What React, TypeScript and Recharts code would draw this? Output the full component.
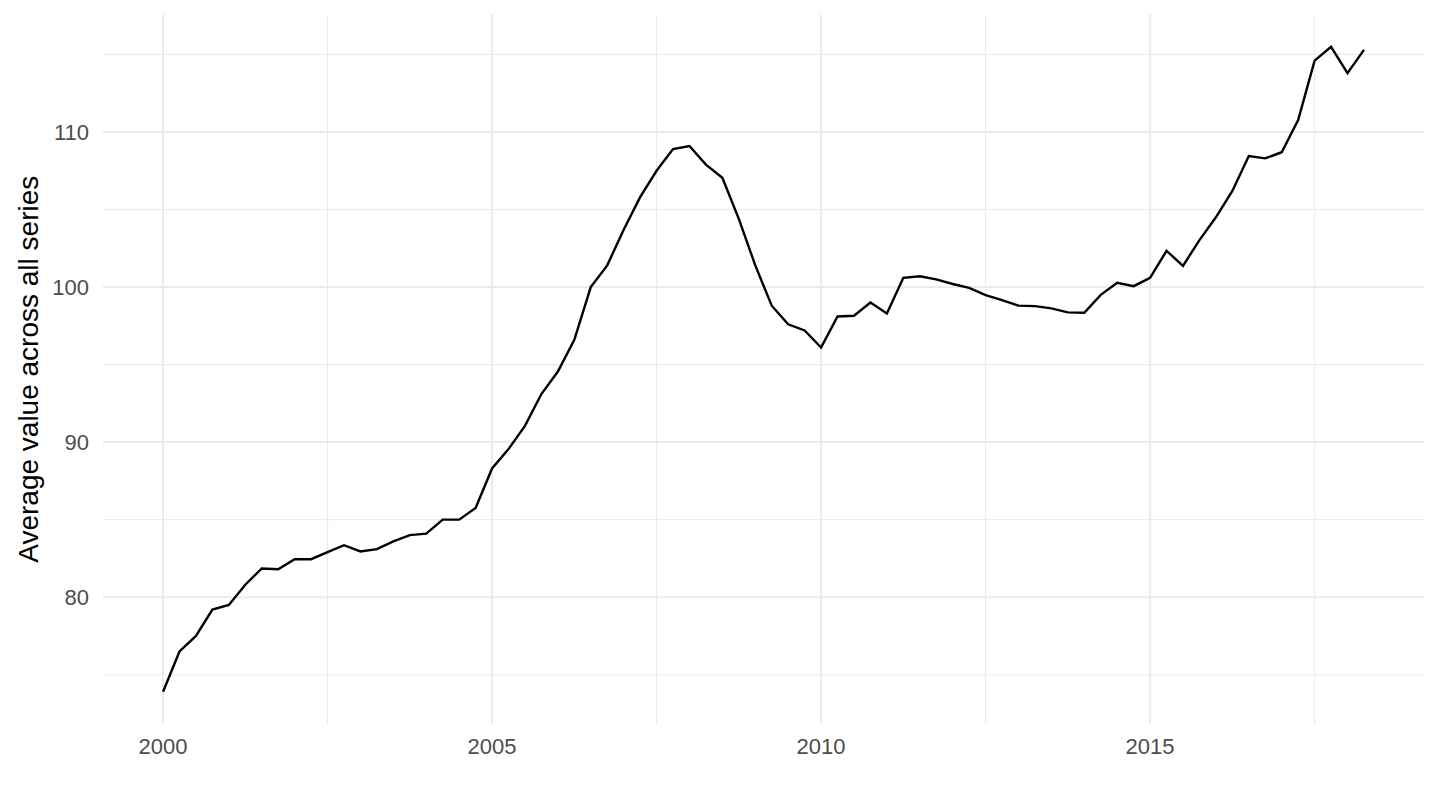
import React from 'react';
import { LineChart, Line, XAxis, YAxis, CartesianGrid } from 'recharts';

// quarterly average, 2000 Q1 .. 2018 Q2
const startYear = 2000;
const values = [
  73.9, 76.5, 77.5, 79.2, 79.5, 80.8, 81.85, 81.8,
  82.45, 82.45, 82.9, 83.35, 82.95, 83.1, 83.6, 84.0,
  84.1, 85.0, 85.0, 85.75, 88.3, 89.55, 91.05, 93.1,
  94.55, 96.6, 100.0, 101.4, 103.7, 105.8, 107.5, 108.9,
  109.1, 107.9, 107.05, 104.4, 101.4, 98.8, 97.6, 97.2,
  96.1, 98.1, 98.15, 99.0, 98.3, 100.6, 100.7, 100.5,
  100.2, 99.95, 99.48, 99.16, 98.8, 98.77, 98.63, 98.37,
  98.34, 99.5, 100.28, 100.06, 100.6, 102.34, 101.37, 103.03,
  104.5, 106.2, 108.45, 108.3, 108.7, 110.77, 114.6, 115.5,
  113.8, 115.3,
];

const xTicks = [2000, 2002.5, 2005, 2007.5, 2010, 2012.5, 2015, 2017.5];
const yTicks = [75, 80, 85, 90, 95, 100, 105, 110, 115];
const xLabels = [2000, 2005, 2010, 2015];
const yLabels = [80, 90, 100, 110];
const yTitle = 'Average value across all series';

const data = values.map((v, i) => ({ t: startYear + i / 4, value: v }));

// ggplot-style 5% expansion
const expand = (lo: number, hi: number): [number, number] => {
  const pad = (hi - lo) * 0.05;
  return [lo - pad, hi + pad];
};
const xDomain = expand(data[0].t, data[data.length - 1].t);
const yDomain = expand(Math.min(...values), Math.max(...values));

const FONT = '"Liberation Sans", Arial, Helvetica, sans-serif';
const GRID = '#ebebeb';

// major lines on labelled ticks, thin minor lines in between
const hLine = (p: any) => (
  <line
    key={p.key}
    x1={p.x1} y1={p.y1} x2={p.x2} y2={p.y2}
    stroke={GRID}
    strokeWidth={p.index % 2 === 1 ? 2 : 1.1}
  />
);

const vLine = (p: any) => (
  <line
    key={p.key}
    x1={p.x1} y1={p.y1} x2={p.x2} y2={p.y2}
    stroke={GRID}
    strokeWidth={p.index % 2 === 0 ? 2 : 1.1}
  />
);

const YTitle = ({ viewBox }: any) => {
  const cx = viewBox.x + 37.5;
  const cy = viewBox.y + viewBox.height / 2;
  return (
    <text
      x={cx}
      y={cy}
      transform={`rotate(-90, ${cx}, ${cy})`}
      textAnchor="middle"
      fontFamily={FONT}
      fontSize={28}
      fill="#000"
    >
      {yTitle}
    </text>
  );
};

export default function App() {
  return (
    <div style={{ position: 'absolute', left: 0, top: 0, background: '#fff' }}>
      <LineChart
        width={1440}
        height={810}
        data={data}
        margin={{ top: 14.5, right: 16, bottom: 0, left: 0 }}
      >
        <CartesianGrid horizontal={hLine} vertical={vLine} syncWithTicks />
        <XAxis
          dataKey="t"
          type="number"
          domain={xDomain}
          ticks={xTicks}
          tickFormatter={(v) => (xLabels.includes(v) ? String(v) : '')}
          height={86}
          axisLine={false}
          tickLine={false}
          tickSize={0}
          tickMargin={14}
          tick={{ fill: '#4d4d4d', fontSize: 22, fontFamily: FONT }}
        />
        <YAxis
          type="number"
          domain={yDomain}
          ticks={yTicks}
          tickFormatter={(v) => (yLabels.includes(v) ? String(v) : '')}
          width={103}
          axisLine={false}
          tickLine={false}
          tickSize={0}
          tickMargin={14}
          tick={{ fill: '#4d4d4d', fontSize: 22, fontFamily: FONT }}
          label={<YTitle />}
        />
        <Line
          type="linear"
          dataKey="value"
          stroke="#000"
          strokeWidth={2.4}
          dot={false}
          isAnimationActive={false}
        />
      </LineChart>
    </div>
  );
}
